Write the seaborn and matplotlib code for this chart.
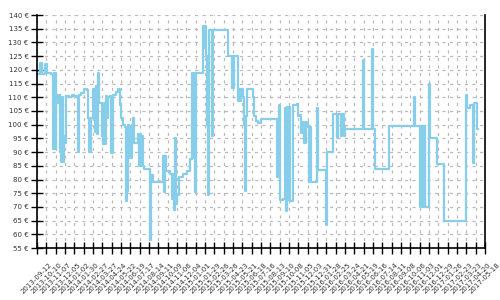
import matplotlib
matplotlib.use("Agg")
import matplotlib.pyplot as plt
import seaborn as sns
import pandas as pd
from matplotlib.transforms import ScaledTranslation

start_date = "2013-09-12"
end_date = "2017-05-18"
tick_step_days = 28

day_offset = [0, 9, 15, 24, 30, 42, 48, 50, 52, 54, 56, 58, 60, 63, 66, 69, 71, 73, 75, 77,
              81, 83, 87, 96, 105, 111, 123, 126, 132, 141, 150, 153, 156, 162, 168, 174, 177,
              180, 183, 186, 195, 198, 201, 204, 207, 210, 213, 219, 222, 228, 237, 243, 249,
              252, 258, 264, 267, 270, 273, 276, 279, 282, 285, 288, 291, 303, 306, 309, 312,
              315, 318, 321, 339, 342, 348, 378, 381, 384, 387, 399, 405, 408, 411, 414, 417,
              420, 426, 438, 450, 459, 465, 468, 471, 474, 477, 498, 501, 504, 507, 510, 513,
              516, 525, 528, 573, 585, 587, 589, 591, 603, 606, 609, 612, 618, 621, 624, 627,
              630, 636, 648, 651, 657, 663, 672, 720, 723, 726, 729, 738, 744, 747, 750, 753,
              756, 759, 768, 780, 783, 789, 792, 795, 801, 807, 813, 816, 819, 822, 840, 843,
              867, 870, 888, 900, 903, 912, 915, 921, 924, 978, 981, 1005, 1008, 1014, 1056,
              1131, 1134, 1149, 1151, 1153, 1155, 1157, 1159, 1161, 1163, 1165, 1176, 1179,
              1200, 1221, 1287, 1290, 1299, 1308, 1311, 1320, 1323]
price = [118.5, 122.5, 118.5, 122, 119, 118.5, 91, 119, 91, 119, 91, 108, 111, 108, 111, 90,
         110, 86.5, 110, 86.5, 96, 93.5, 110.5, 110, 111, 110.5, 90, 111, 111.5, 113, 112.5,
         102.5, 90, 102.5, 113, 97.5, 114, 96.5, 119, 108, 96, 93, 108, 93, 110.5, 102.5, 110,
         110.5, 89.5, 111, 112, 113, 107, 102.5, 100, 99, 72, 76, 100, 88, 98.5, 88, 100,
         102.5, 93.5, 96.5, 85, 96.5, 85, 96, 85, 84, 58, 81.5, 79, 88.5, 75.5, 88.5, 83, 82,
         73, 82, 69, 95, 71, 74.5, 81, 82, 83, 87.5, 119, 88, 119, 75.5, 119, 136, 128, 136,
         125, 100, 74.5, 134.5, 96, 134.5, 125, 113.5, 125, 113.5, 125, 108.5, 113, 108.5,
         113, 110, 100, 76, 103, 113, 113, 110, 103, 101.5, 100.5, 102, 81, 102, 107, 72.5,
         73, 106, 68.5, 106.5, 72.5, 106.5, 72, 107, 107.5, 103, 103.5, 97, 101, 93.5, 101,
         99, 79, 99, 79, 106, 83.5, 63.5, 90, 104, 95, 104, 96, 104, 96, 98.5, 123.5, 98.5,
         127.5, 98.5, 84, 99.5, 110, 99.5, 70, 99.5, 70, 99.5, 70, 99.5, 70, 99.5, 70, 115,
         95, 85.5, 65, 111, 106, 107, 86, 108, 98.5, 98.5]

y_ticks = list(range(55, 141, 5))

dates = pd.to_datetime(start_date) + pd.to_timedelta(day_offset, unit="D")
df = pd.DataFrame({"date": dates, "price": price})
tick_dates = pd.date_range(start_date, end_date, freq=f"{tick_step_days}D")

sns.set_style("white")
fig = plt.figure(figsize=(5, 3), dpi=100)
ax = fig.add_axes([0.074, 0.173, 0.896, 0.777])

sns.lineplot(data=df, x="date", y="price", ax=ax, drawstyle="steps-post",
             color="#87CEEB", linewidth=1.6, estimator=None)

ax.set_xlim(pd.to_datetime(start_date), pd.to_datetime(end_date))
ax.set_ylim(55, 140)
ax.set_yticks(y_ticks)
ax.set_yticklabels([f"{v} €" for v in y_ticks], fontsize=5, color="#333333")
ax.set_xticks(tick_dates)
ax.set_xticklabels([d.strftime("%Y-%m-%d") for d in tick_dates], fontsize=5,
                   color="#333333", rotation=45, ha="center")
offset = ScaledTranslation(-0.04, 0, fig.dpi_scale_trans)
for lab in ax.get_xticklabels():
    lab.set_transform(lab.get_transform() + offset)

ax.set_xlabel("")
ax.set_ylabel("")
ax.grid(True, color="#bbbbbb", linestyle=(0, (2.5, 3.5)), linewidth=0.9)
ax.tick_params(axis="both", direction="inout", length=8, width=1, color="black",
               bottom=True, left=True, right=False, top=False)
ax.tick_params(axis="x", pad=6)
ax.tick_params(axis="y", pad=2)
for s in ["left", "bottom", "right"]:
    ax.spines[s].set_visible(True)
    ax.spines[s].set_color("black")
    ax.spines[s].set_linewidth(1.2)
ax.spines["top"].set_visible(False)

fig.savefig("out.png", dpi=100)
